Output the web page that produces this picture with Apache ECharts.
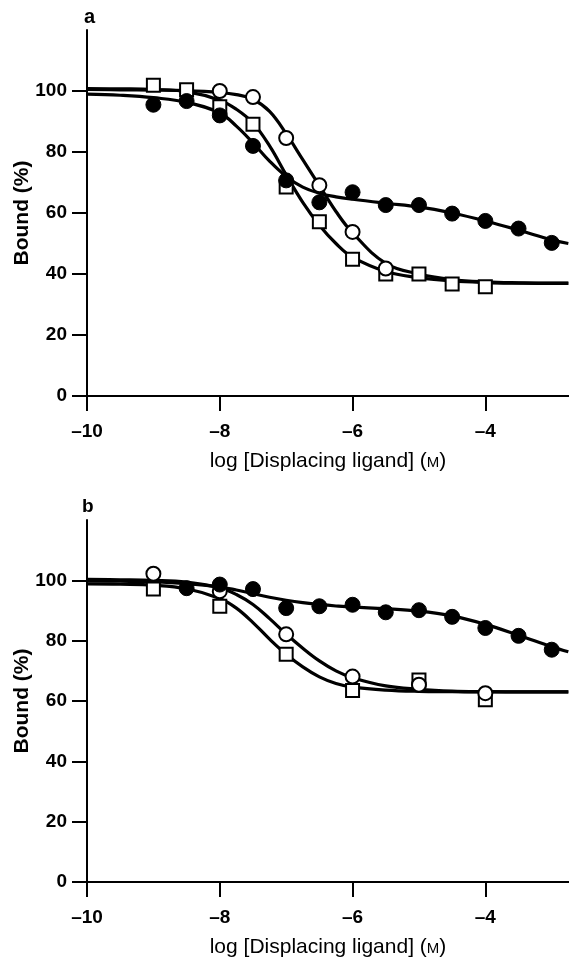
<!DOCTYPE html>
<html>
<head>
<meta charset="utf-8">
<script src="https://cdn.jsdelivr.net/npm/echarts@6/dist/echarts.min.js"></script>
<style>
  html, body { margin: 0; padding: 0; background: #fff; }
  #chart { width: 569px; height: 963px; }
</style>
</head>
<body>
<div id="chart"></div>
<script>
// ticks
var xTicks = [-10, -8, -6, -4];
var yTicks = [0, 20, 40, 60, 80, 100];

// panel a: measured points [log dose, bound %]
var aFilled = [[-9, 95.5], [-8.5, 96.7], [-8, 92], [-7.5, 82], [-7, 70.7], [-6.5, 63.5], [-6, 66.8],
  [-5.5, 62.6], [-5, 62.6], [-4.5, 59.8], [-4, 57.4], [-3.5, 54.9], [-3, 50.2]];
var aOpen = [[-8, 100], [-7.5, 98], [-7, 84.6], [-6.5, 69.1], [-6, 53.8], [-5.5, 41.8]];
var aSquare = [[-9, 101.9], [-8.5, 100.4], [-8, 94.8], [-7.5, 89.1], [-7, 68.5], [-6.5, 57.1],
  [-6, 44.8], [-5.5, 40], [-5, 40], [-4.5, 36.7], [-4, 35.8]];

// panel b: measured points
var bFilled = [[-8.5, 97.4], [-8, 98.6], [-7.5, 97.1], [-7, 90.8], [-6.5, 91.4], [-6, 91.9],
  [-5.5, 89.4], [-5, 90.1], [-4.5, 87.9], [-4, 84.2], [-3.5, 81.6], [-3, 77]];
var bOpen = [[-9, 102.2], [-8, 96.4], [-7, 82.1], [-6, 68.1], [-5, 65.4], [-4, 62.6]];
var bSquare = [[-9, 97.1], [-8, 91.4], [-7, 75.5], [-6, 63.5], [-5, 67], [-4, 60.4]];

// fitted curves at these x positions
var curveX = [-10, -9.5, -9, -8.5, -8, -7.75, -7.5, -7.25, -7, -6.75, -6.5, -6.25, -6, -5.5, -5, -4.5, -4, -3.5, -3, -2.75];
var aFilledFit = [99, 98.6, 97.8, 96.3, 92.8, 88.5, 83, 77, 72, 68.5, 66.5, 65.3, 64.5, 63.2, 62, 60, 57.4, 54.4, 51.2, 50];
var aOpenFit = [100.5, 100.4, 100.3, 100.1, 99.5, 98.8, 97.3, 93.3, 86, 77.5, 69, 60.5, 53.5, 43.5, 40, 38.2, 37.4, 37.1, 37, 37];
var aSquareFit = [100.8, 100.7, 100.5, 99.8, 97, 94, 89.5, 82, 72.5, 63.5, 56, 50, 45.5, 40.8, 38.8, 37.7, 37.2, 37, 36.9, 36.9];
var bFilledFit = [99.8, 99.7, 99.5, 98.9, 97.8, 96.8, 95.6, 94.4, 93.4, 92.6, 92, 91.5, 91.1, 90.6, 89.8, 88.2, 85.4, 81.8, 78, 76.3];
var bOpenFit = [100.3, 100.2, 100, 99.4, 97.5, 95.3, 92, 87.3, 82.2, 77.5, 73.3, 70, 67.7, 65, 63.9, 63.3, 63.1, 63, 63, 63];
var bSquareFit = [98.8, 98.7, 98.4, 97.2, 94, 90.8, 86, 80.5, 75.5, 71.3, 68, 65.8, 64.6, 63.6, 63.2, 63.1, 63, 63, 63, 63];

function zipCurve(ys) {
  return curveX.map(function (x, i) { return [x, ys[i]]; });
}

var font = 'Liberation Sans, Arial, Helvetica, sans-serif';

function makeX(idx) {
  return {
    type: 'value', gridIndex: idx, min: -10, max: -2.74,
    name: 'log [Displacing ligand] ({sc|M})',
    nameLocation: 'middle', nameGap: 55,
    nameTextStyle: { color: '#000', fontSize: 21, fontFamily: font,
      rich: { sc: { fontSize: 15, color: '#000', fontFamily: font, padding: [3, 0, 0, 0] } } },
    axisLine: { lineStyle: { color: '#000', width: 2 } },
    axisTick: { customValues: xTicks, length: 15, inside: false, lineStyle: { color: '#000', width: 2 } },
    axisLabel: { customValues: xTicks, margin: 26, color: '#000', fontSize: 19, fontWeight: 'bold', fontFamily: font,
      formatter: function (v) { return v < 0 ? '\u2013' + Math.abs(v) : String(v); } },
    splitLine: { show: false }
  };
}

function makeY(idx) {
  return {
    type: 'value', gridIndex: idx, min: 0, max: 120,
    name: 'Bound (%)', nameLocation: 'middle', nameGap: 54, nameMoveOverlap: false,
    nameTextStyle: { color: '#000', fontSize: 21, fontWeight: 'bold', fontFamily: font },
    axisLine: { lineStyle: { color: '#000', width: 2 } },
    axisTick: { customValues: yTicks, length: 15, lineStyle: { color: '#000', width: 2 } },
    axisLabel: { customValues: yTicks, margin: 20, color: '#000', fontSize: 19, fontWeight: 'bold', fontFamily: font },
    splitLine: { show: false }
  };
}

function fit(idx, ys) {
  return { type: 'line', xAxisIndex: idx, yAxisIndex: idx, data: zipCurve(ys), smooth: 0.4,
    showSymbol: false, silent: true, z: 2, lineStyle: { color: '#000', width: 3.2 } };
}

function points(idx, data, kind) {
  var s = { type: 'scatter', xAxisIndex: idx, yAxisIndex: idx, data: data, symbolSize: 14 };
  if (kind === 'filled') {
    s.symbol = 'circle'; s.symbolSize = 15; s.z = 5;
    s.itemStyle = { color: '#000', borderColor: '#000', borderWidth: 1, opacity: 1 };
  } else if (kind === 'open') {
    s.symbol = 'circle'; s.z = 4;
    s.itemStyle = { color: '#fff', borderColor: '#000', borderWidth: 2, opacity: 1 };
  } else {
    s.symbol = 'rect'; s.symbolSize = 13; s.z = 3;
    s.itemStyle = { color: '#fff', borderColor: '#000', borderWidth: 2, opacity: 1 };
  }
  return s;
}

var myChart = echarts.init(document.getElementById('chart'));

var option = {
  backgroundColor: '#fff',
  animation: false,
  title: [
    { text: 'a', left: 84, top: 7, padding: 0, textStyle: { fontSize: 20, fontWeight: 'bold', color: '#000', fontFamily: font } },
    { text: 'b', left: 82, top: 497, padding: 0, textStyle: { fontSize: 19, fontWeight: 'bold', color: '#000', fontFamily: font } }
  ],
  grid: [
    { left: 87, top: 30, width: 482, height: 366, outerBoundsMode: 'none' },
    { left: 87, top: 520, width: 482, height: 362, outerBoundsMode: 'none' }
  ],
  xAxis: [makeX(0), makeX(1)],
  yAxis: [makeY(0), makeY(1)],
  series: [
    fit(0, aFilledFit), fit(0, aOpenFit), fit(0, aSquareFit),
    points(0, aSquare, 'square'), points(0, aOpen, 'open'), points(0, aFilled, 'filled'),
    fit(1, bFilledFit), fit(1, bOpenFit), fit(1, bSquareFit),
    points(1, bSquare, 'square'), points(1, bOpen, 'open'), points(1, bFilled, 'filled')
  ]
};

myChart.setOption(option);
</script>
</body>
</html>
